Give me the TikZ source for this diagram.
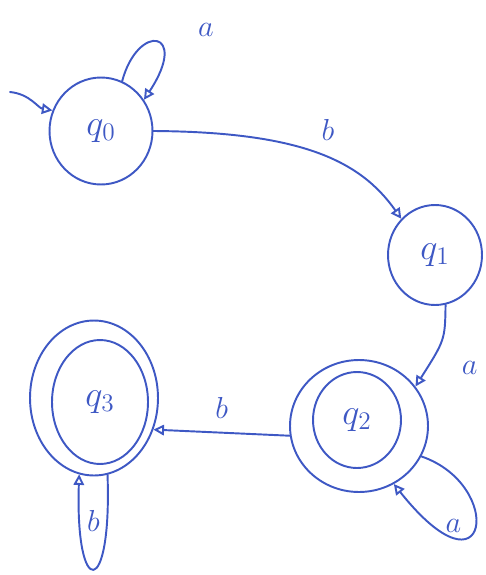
\documentclass[tikz,border=0pt]{standalone}
\usetikzlibrary{arrows.meta,shapes.geometric}
\definecolor{pen}{RGB}{62,88,196}
\begin{document}
\begin{tikzpicture}[x=0.02cm,y=-0.02cm,line join = round, line cap = round,>={Triangle[open,length=6pt,width=6pt]},font=\LARGE,color=pen,line width=1.1pt,
	st/.style={ellipse,draw,inner sep=0pt},
	lbl/.style={font=\LARGE}]
	\useasboundingbox (0,0) rectangle (485,575);
	%Các trạng thái
	\node[st,minimum width=2.06cm,minimum height=2.14cm,font=\huge] (q0) at (101,131) {$q_0$};
	\node[st,minimum width=1.88cm,minimum height=2.0cm,font=\huge] (q1) at (435,255) {$q_1$};
	\node[st,minimum width=2.76cm,minimum height=2.64cm] (q2) at (359,426) {};
	\node[st,minimum width=1.76cm,minimum height=1.92cm,font=\huge] (q2i) at (357,420) {$q_2$};
	\node[st,minimum width=2.56cm,minimum height=3.1cm] (q3) at (94,398) {};
	\node[st,minimum width=1.92cm,minimum height=2.48cm,font=\huge] (q3i) at (100,402) {$q_3$};
	%Mũi tên vào
	\coordinate (start) at (10,92);
	\draw[->] (start) .. controls (30,94) and (38,108) .. (q0.157);
	%Các cung chuyển
	\draw[->] (q0.67) .. controls (138,22) and (190,30) .. (q0.36) node[lbl,pos=.5,right=0.7cm,yshift=0.25cm] {$a$};
	\draw[->] (q0.east) .. controls (300,132) and (360,160) .. (q1.133) node[lbl,pos=.55,above=6pt] {$b$};
	\draw[->] (q1.-78) .. controls (445,340) .. (q2.35) node[lbl,pos=.85,right=16pt] {$a$};
	\draw[->] (q2.188) -- (q3.-28) node[lbl,pos=.5,above=4pt] {$b$};
	\draw[->] (q2.-26) .. controls (505,485) and (490,605) .. (q2.-59) node[lbl,pos=.5,left=4pt] {$a$};
	\draw[->] (q3.-80) .. controls (112,600) and (75,600) .. (q3.-101) node[lbl,pos=.5,above=0.6cm] {$b$};
\end{tikzpicture}
\end{document}
